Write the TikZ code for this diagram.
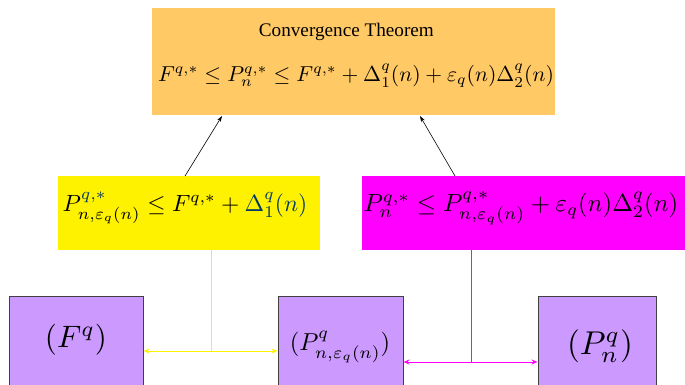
\documentclass[tikz,border=0pt]{standalone}
\usepackage{fontspec}
\setmainfont{Liberation Serif}
\usetikzlibrary{arrows.meta}
\definecolor{orangebox}{HTML}{FFC966}
\definecolor{yellowbox}{HTML}{FFF200}
\definecolor{magbox}{HTML}{FF00FF}
\definecolor{purplebox}{HTML}{CC99FF}
\definecolor{darkteal}{HTML}{003A66}
\newcommand{\fsz}[1]{\fontsize{#1}{#1}\selectfont}
\begin{document}
\begin{tikzpicture}[x=1pt,y=-1pt,
  box/.style={inner sep=0pt,outer sep=0pt},
  lowbox/.style={fill=purplebox,draw=black!75,line width=0.6pt},
  conn/.style={-{Stealth[length=6pt,width=4pt]},black,line width=0.6pt},
  yconn/.style={{Stealth[length=6pt,width=5pt]}-{Stealth[length=6pt,width=5pt]},yellowbox,line width=1pt},
  mconn/.style={{Stealth[length=6pt,width=5pt]}-{Stealth[length=6pt,width=5pt]},magbox,line width=1pt}]
\useasboundingbox (0,0) rectangle (685,384);
% boxes
\fill[orangebox] (152,8) rectangle (555,115);
\fill[yellowbox] (58,176) rectangle (320,250);
\fill[magbox] (362,176) rectangle (685,250);
\draw[lowbox] (9,296) rectangle (143,390);
\draw[lowbox] (278,296) rectangle (403,390);
\draw[lowbox] (538,296) rectangle (656,390);
% texts
\node[box] (ttl) at (344,32) {\fsz{19.2} Convergence Theorem};
\node[box] (f1) at (356,76) {\scalebox{2.16}{$F^{q,*}\le P^{q,*}_{n}\le F^{q,*}+\Delta^{q}_{1}(n)+\varepsilon_{q}(n)\Delta^{q}_{2}(n)$}};
\node[box] (f2) at (185,208) {\scalebox{2.35}{$P^{\textcolor{darkteal}{q,*}}_{n,\varepsilon_{q}(n)}\le F^{q,*}+\textcolor{darkteal}{\Delta^{q}_{1}(n)}$}};
\node[box] (f3) at (521,208) {\scalebox{2.48}{$P^{q,*}_{n}\le P^{q,*}_{n,\varepsilon_{q}(n)}+\varepsilon_{q}(n)\Delta^{q}_{2}(n)$}};
\node[box] (l1) at (76,340) {\scalebox{3.1}{$(F^{q})$}};
\node[box] (l2) at (340,347) {\scalebox{2.45}{$(P^{q}_{n,\varepsilon_{q}(n)})$}};
\node[box] (l3) at (600,346) {\scalebox{3.3}{$(P^{q}_{n})$}};
% connectors
\coordinate (ya) at (185,176);
\coordinate (yb) at (222,116);
\coordinate (ma) at (455,176);
\coordinate (mb) at (420,116);
\draw[conn] (ya) -- (yb);
\draw[conn] (ma) -- (mb);
\coordinate (yt) at (211,250);
\coordinate (yj) at (211,351);
\coordinate (y1) at (143.5,351);
\coordinate (y2) at (277.5,351);
\draw[yellowbox,line width=0.8pt] (yt) -- (yj);
\draw[yconn] (y1) -- (y2);
\coordinate (mt) at (471,250);
\coordinate (mj) at (471,362);
\coordinate (m1) at (403.5,362);
\coordinate (m2) at (537.5,362);
\draw[magbox,line width=0.6pt] (mt) -- (mj);
\draw[mconn] (m1) -- (m2);
\end{tikzpicture}
\end{document}
